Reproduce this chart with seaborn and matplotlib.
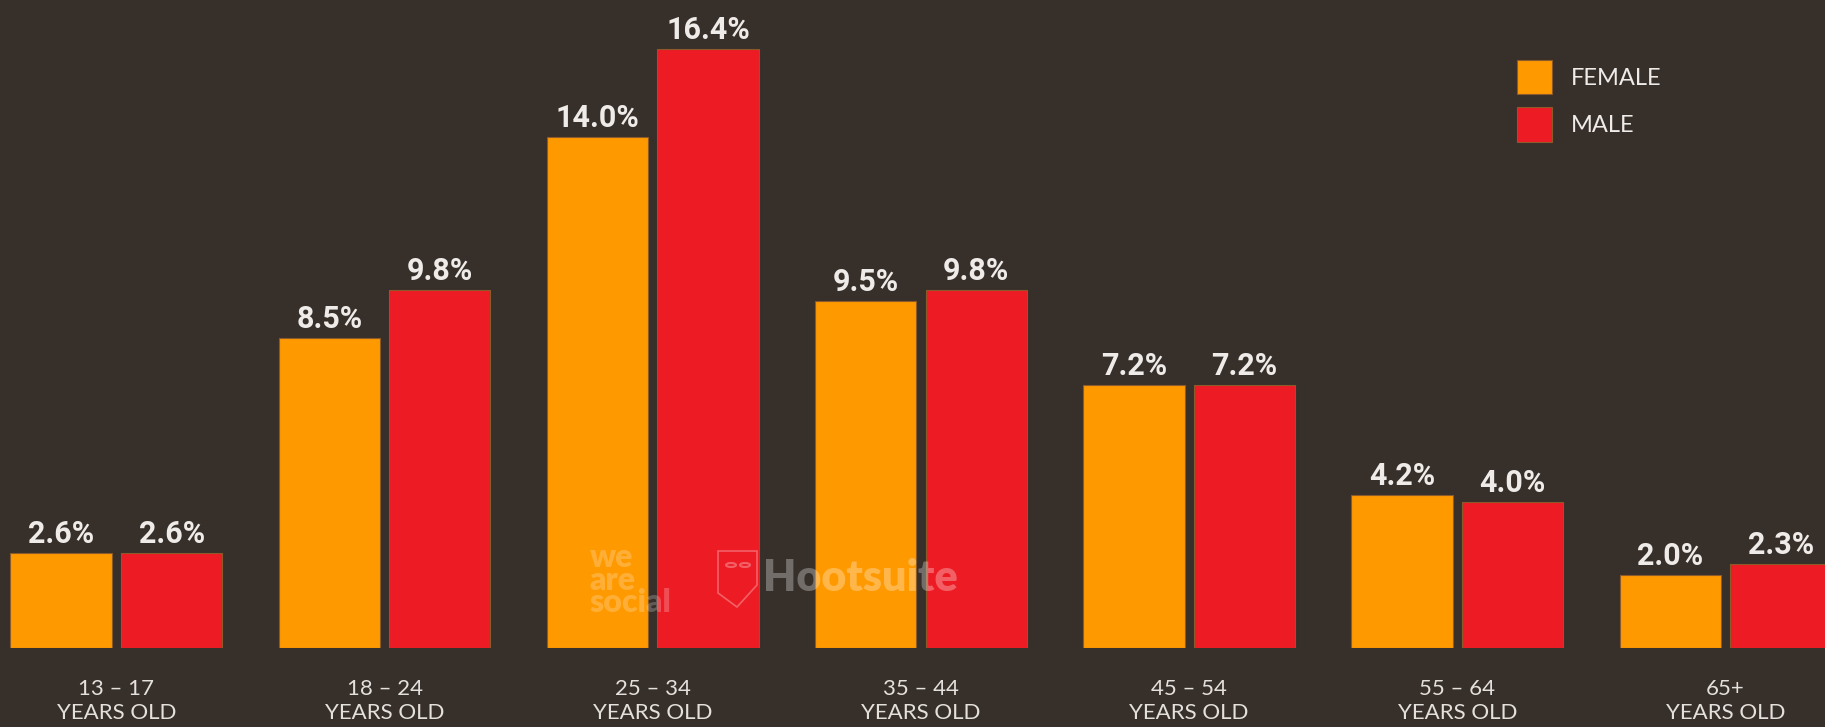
import numpy as np
import pandas as pd
import matplotlib.pyplot as plt
import seaborn as sns
from matplotlib.patches import Polygon, Circle

# datos
age_groups = ['13 – 17\nYEARS OLD', '18 – 24\nYEARS OLD', '25 – 34\nYEARS OLD',
              '35 – 44\nYEARS OLD', '45 – 54\nYEARS OLD', '55 – 64\nYEARS OLD',
              '65+\nYEARS OLD']
female = [2.6, 8.5, 14.0, 9.5, 7.2, 4.2, 2.0]
male = [2.6, 9.8, 16.4, 9.8, 7.2, 4.0, 2.3]
genders = ['FEMALE', 'MALE']
colors = ['#FF9900', '#ED1C24']

BG = '#372F2A'
TXT = '#EFEBE8'
W, H = 1825, 727

df = pd.DataFrame({
    'age': age_groups * 2,
    'share': female + male,
    'gender': [genders[0]] * len(female) + [genders[1]] * len(male),
})

sns.set_style('white')
plt.rcParams['font.family'] = ['Lato', 'DejaVu Sans']

fig = plt.figure(figsize=(W / 100, H / 100), dpi=100, facecolor=BG)
ax = fig.add_axes([0, 79 / H, 1, 648 / H])
ax.set_facecolor(BG)

sns.barplot(data=df, x='age', y='share', hue='gender', hue_order=genders,
            palette=colors, saturation=1, width=0.824, gap=0.083,
            edgecolor='#8a5a2a', linewidth=0.8, ax=ax)

ax.set_xlim(-0.434, 6.371)
ax.set_ylim(0, 17.75)

for cont in ax.containers:
    ax.bar_label(cont, fmt='%.1f%%', padding=3, color=TXT, fontsize=22,
                 family=['Roboto', 'DejaVu Sans'], fontweight='bold')

sns.despine(ax=ax, left=True, bottom=True)
ax.set_yticks([])
ax.set_xlabel('')
ax.set_ylabel('')
ax.tick_params(axis='x', length=0, pad=22, labelsize=16, labelcolor='#E4E0DC')
for lab in ax.get_xticklabels():
    lab.set_linespacing(1.3)

handles, labels = ax.get_legend_handles_labels()
leg = ax.legend(handles, labels, loc='upper left',
                bbox_to_anchor=(1517 / W, 1 - 60 / H), bbox_transform=fig.transFigure,
                frameon=False, fontsize=17, handlelength=1.5, handleheight=1.87,
                handletextpad=0.8, labelspacing=0.55, borderpad=0, borderaxespad=0)
for t in leg.get_texts():
    t.set_color(TXT)

# marca de agua
fig.text(590 / W, 1 - 580 / H, 'we\nare\nsocial', color='white', alpha=0.22,
         fontsize=23, fontweight='heavy', va='center', ha='left', linespacing=0.72)
fig.text(763 / W, 1 - 578 / H, 'Hootsuite', color='white', alpha=0.3,
         fontsize=31, fontweight='heavy', va='center', ha='left')
owl = [(718, 551), (757, 551), (757, 585), (737, 607), (718, 593)]
fig.patches.append(Polygon([(x / W, 1 - y / H) for x, y in owl], closed=True,
                           fill=False, ec='white', alpha=0.3, lw=1.2,
                           transform=fig.transFigure))
for cx in (731, 745):
    fig.patches.append(Circle((cx / W, 1 - 565 / H), 5 / W, fill=False, ec='white',
                              alpha=0.3, lw=1.5, transform=fig.transFigure))

fig.savefig('out.png', dpi=100, facecolor=BG)
